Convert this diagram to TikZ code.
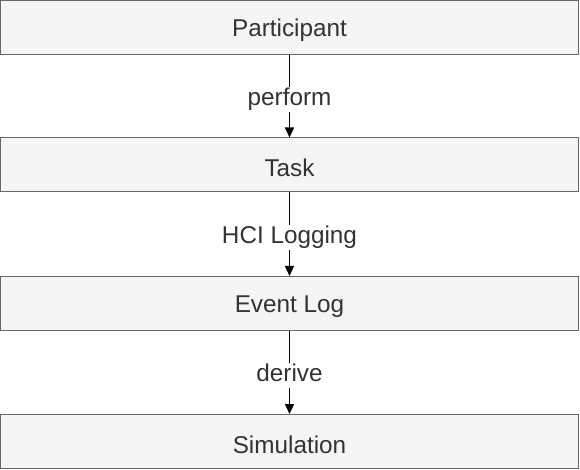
\documentclass[tikz,border=0pt]{standalone}
\usepackage{fontspec}
\setmainfont{Liberation Sans}
\usetikzlibrary{arrows.meta}
\definecolor{boxfill}{HTML}{F5F5F5}
\definecolor{boxline}{HTML}{666666}
\definecolor{txt}{HTML}{333333}
\begin{document}
\begin{tikzpicture}[x=1bp,y=-1bp,
  layer/.style={draw=boxline, fill=boxfill, line width=1bp, minimum width=578bp, minimum height=54bp, inner sep=0pt, text=txt, font=\fontsize{24.3bp}{28bp}\selectfont},
  ttl/.style={text=txt, inner sep=0pt, font=\fontsize{24.3bp}{28bp}\selectfont},
  conn/.style={line width=1.3bp, -{Triangle[length=10bp,width=9bp]}},
  lbl/.style={fill=white, text=txt, inner sep=1.5bp, text height=17bp, text depth=5bp, font=\fontsize{24.3bp}{28bp}\selectfont}]
\useasboundingbox (0,0) rectangle (580,470);
\node[layer] (p) at (289.5,27.5) {};
\node[layer] (t) at (289.5,165) {};
\node[layer] (e) at (289.5,303.5) {};
\node[layer] (s) at (289.5,441.5) {};
\node[ttl] (pt) at ([yshift=-3bp]p.center) {Participant};
\node[ttl] (tt) at ([yshift=-3bp]t.center) {Task};
\node[ttl] (et) at ([yshift=-3bp]e.center) {Event Log};
\node[ttl] (st) at ([yshift=-3bp]s.center) {Simulation};
\draw[conn] (p) -- node[lbl, yshift=-3bp] {perform} (t);
\draw[conn] (t) -- node[lbl, yshift=-3bp] {HCI Logging} (e);
\draw[conn] (e) -- node[lbl, yshift=-3bp] {derive} (s);
\end{tikzpicture}
\end{document}
